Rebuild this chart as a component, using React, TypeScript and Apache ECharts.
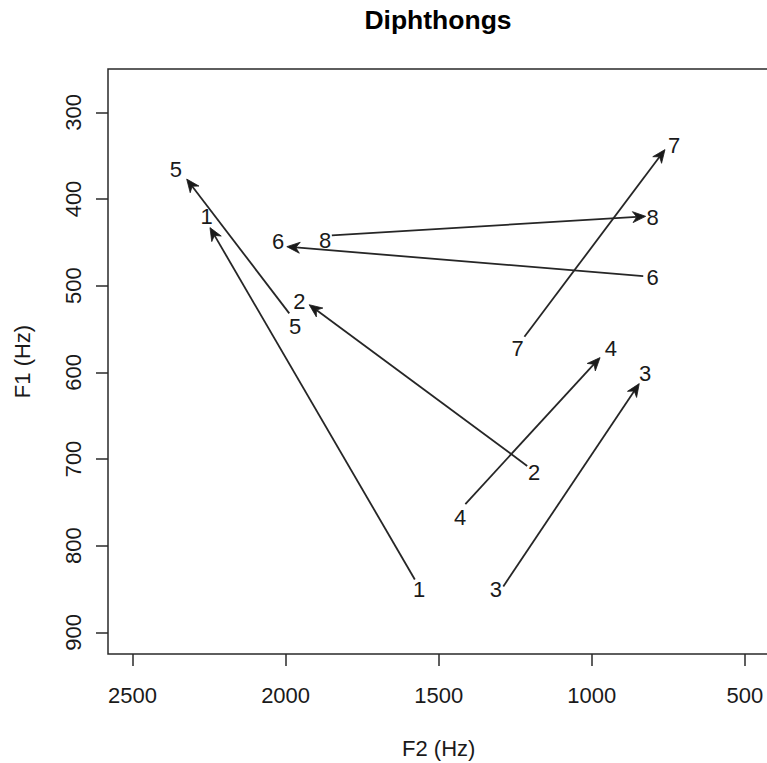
import React, { useEffect, useRef } from "react";
import * as echarts from "echarts";

// Diphthong numbers
const diphthongIds = ["1", "2", "3", "4", "5", "6", "7", "8"];

// Label positions: onset (start) and offset (end) formants, Hz
const onsetF2 = [1564, 1188, 1313, 1430, 1969, 801, 1242, 1871];
const onsetF1 = [850, 715, 850, 768, 547, 490, 572, 448];
const offsetF2 = [2258, 1955, 826, 938, 2358, 2024, 731, 801];
const offsetF1 = [420, 518, 601, 573, 366, 449, 338, 421];

// Arrow start / end (slightly inset from the labels), Hz
const arrowStartF2 = [1578, 1211, 1289, 1413, 1988, 832, 1220, 1849];
const arrowStartF1 = [839, 708, 847, 752, 532, 489, 559, 442];
const arrowEndF2 = [2247, 1923, 845, 973, 2323, 1996, 761, 824];
const arrowEndF1 = [433, 522, 613, 583, 377, 455, 343, 420];

// Axis ticks
const xTicks = [2500, 2000, 1500, 1000, 500];
const yTicks = [300, 400, 500, 600, 700, 800, 900];

const FONT = "'Liberation Sans', Arial, Helvetica, sans-serif";
const INK = "#1a1a1a";

export default function App() {
  const ref = useRef<HTMLDivElement>(null);

  useEffect(() => {
    if (!ref.current) return;
    const chart = echarts.init(ref.current, null, { renderer: "svg" });

    const arrowData = diphthongIds.map((_, i) => [
      arrowStartF2[i],
      arrowStartF1[i],
      arrowEndF2[i],
      arrowEndF1[i],
    ]);
    const labelData: any[] = [];
    diphthongIds.forEach((id, i) => {
      labelData.push([onsetF2[i], onsetF1[i], id]);
      labelData.push([offsetF2[i], offsetF1[i], id]);
    });

    const option: any = {
      animation: false,
      backgroundColor: "#ffffff",
      title: {
        text: "Diphthongs",
        left: 438,
        top: 6,
        padding: 0,
        textAlign: "center",
        textStyle: {
          fontFamily: FONT,
          fontSize: 26.5,
          fontWeight: "bold",
          color: "#000",
        },
      },
      grid: {
        left: 108,
        top: 69,
        width: 661.4,
        height: 585,
        containLabel: false,
        outerBoundsMode: "none",
        show: true,
        borderColor: "#2a2a2a",
        borderWidth: 1.5,
        backgroundColor: "transparent",
      },
      xAxis: {
        type: "value",
        inverse: true,
        min: 420,
        max: 2580,
        name: "F2 (Hz)",
        nameLocation: "middle",
        nameGap: 83,
        nameTextStyle: { fontFamily: FONT, fontSize: 22, color: INK },
        axisLine: { show: false },
        splitLine: { show: false },
        axisTick: {
          show: true,
          length: 12,
          customValues: xTicks,
          lineStyle: { color: "#2a2a2a", width: 1.5 },
        },
        axisLabel: {
          customValues: xTicks,
          formatter: (v: number) => String(v),
          margin: 30,
          fontFamily: FONT,
          fontSize: 22,
          color: INK,
        },
      },
      yAxis: {
        type: "value",
        inverse: true,
        min: 250,
        max: 925,
        name: "F1 (Hz)",
        nameLocation: "middle",
        nameGap: 75,
        nameRotate: 90,
        nameTextStyle: { fontFamily: FONT, fontSize: 22, color: INK },
        axisLine: { show: false },
        splitLine: { show: false },
        axisTick: {
          show: true,
          length: 12,
          customValues: yTicks,
          lineStyle: { color: "#2a2a2a", width: 1.5 },
        },
        axisLabel: {
          customValues: yTicks,
          formatter: (v: number) => String(v),
          rotate: 90,
          margin: 24,
          fontFamily: FONT,
          fontSize: 22,
          color: INK,
        },
      },
      series: [
        {
          type: "custom",
          name: "arrows",
          data: arrowData,
          encode: { x: [0, 2], y: [1, 3] },
          clip: false,
          silent: true,
          renderItem: (params: any, api: any) => {
            const s = api.coord([api.value(0), api.value(1)]);
            const e = api.coord([api.value(2), api.value(3)]);
            const dx = e[0] - s[0];
            const dy = e[1] - s[1];
            const len = Math.hypot(dx, dy) || 1;
            const ux = dx / len;
            const uy = dy / len;
            const px = -uy;
            const py = ux;
            const headLen = 13;
            const headHalf = 5.5;
            const notch = 9;
            const bx = e[0] - ux * headLen;
            const by = e[1] - uy * headLen;
            const nx = e[0] - ux * notch;
            const ny = e[1] - uy * notch;
            return {
              type: "group",
              children: [
                {
                  type: "line",
                  shape: { x1: s[0], y1: s[1], x2: nx, y2: ny },
                  style: { stroke: "#262626", lineWidth: 1.8 },
                },
                {
                  type: "polygon",
                  shape: {
                    points: [
                      [e[0], e[1]],
                      [bx + px * headHalf, by + py * headHalf],
                      [nx, ny],
                      [bx - px * headHalf, by - py * headHalf],
                    ],
                  },
                  style: { fill: "#1a1a1a", stroke: "#1a1a1a", lineWidth: 0.8 },
                },
              ],
            };
          },
        },
        {
          type: "custom",
          name: "labels",
          data: labelData,
          encode: { x: 0, y: 1 },
          clip: false,
          silent: true,
          renderItem: (params: any, api: any) => {
            const p = api.coord([api.value(0), api.value(1)]);
            const txt = labelData[params.dataIndex][2];
            return {
              type: "text",
              x: p[0],
              y: p[1],
              style: {
                text: txt,
                fontFamily: FONT,
                fontSize: 22,
                fill: INK,
                align: "center",
                verticalAlign: "middle",
              },
            };
          },
        },
      ],
    };

    chart.setOption(option);
    return () => {
      chart.dispose();
    };
  }, []);

  return (
    <div
      ref={ref}
      style={{
        position: "absolute",
        left: 0,
        top: 0,
        width: 767,
        height: 763,
        background: "#ffffff",
      }}
    />
  );
}
